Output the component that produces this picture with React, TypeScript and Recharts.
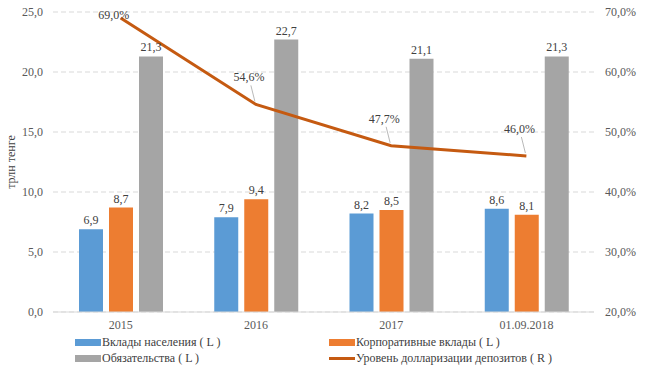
import { ComposedChart, Bar, Line, XAxis, YAxis, CartesianGrid, LabelList } from 'recharts'

const years = ['2015', '2016', '2017', '01.09.2018']
const household = [6.9, 7.9, 8.2, 8.6]
const corporate = [8.7, 9.4, 8.5, 8.1]
const liabilities = [21.3, 22.7, 21.1, 21.3]
const dollarization = [69.0, 54.6, 47.7, 46.0]
const leftTicks = [0, 5, 10, 15, 20, 25]
const rightTicks = [20, 30, 40, 50, 60, 70]

const FONT = '"Liberation Serif", "DejaVu Serif", "Times New Roman", serif'
const TEXT = '#595959'
const BLUE = '#5B9BD5'
const ORANGE = '#ED7D31'
const GREY = '#A5A5A5'
const LINE = '#C55A11'

const data = years.map((year, i) => ({
  year,
  household: household[i],
  corporate: corporate[i],
  liabilities: liabilities[i],
  dollarization: dollarization[i],
}))

const fmt = (v: number) => v.toFixed(1).replace('.', ',')

const LineLabel = (props: any) => {
  const { x, y, value } = props
  const lx = x - 7
  const ly = Math.max(y - 27, 15)
  const gap = y - ly
  return (
    <g>
      {gap > 15 && (
        <line x1={lx + 2} y1={ly + 8} x2={x - 1} y2={y - 3} stroke="#a6a6a6" strokeWidth={0.8} />
      )}
      <text x={lx} y={ly} textAnchor="middle" dominantBaseline="central" fontSize={12} fontFamily={FONT} fill="#404040">
        {fmt(value) + '%'}
      </text>
    </g>
  )
}

const legendItems = [
  { name: 'Вклады населения ( L )', color: BLUE, kind: 'bar', left: 75, top: 336 },
  { name: 'Корпоративные вклады ( L )', color: ORANGE, kind: 'bar', left: 329, top: 336 },
  { name: 'Обязательства ( L )', color: GREY, kind: 'bar', left: 75, top: 352 },
  { name: 'Уровень долларизации депозитов ( R )', color: LINE, kind: 'line', left: 329, top: 352 },
]

const tickStyle = { fontSize: 12, fill: TEXT, fontFamily: FONT }
const barLabelStyle = { fontSize: 12, fill: '#404040', fontFamily: FONT }

export default function App() {
  return (
    <div style={{ position: 'absolute', left: 0, top: 0, width: 650, height: 369, background: '#fff', fontFamily: FONT }}>
      <ComposedChart
        width={650}
        height={369}
        data={data}
        margin={{ top: 12, right: 0, bottom: 37, left: 0 }}
        barSize={24}
        barGap={6}
        style={{ fontFamily: FONT }}
      >
        <CartesianGrid vertical={false} stroke="#d9d9d9" strokeDasharray="5 3" yAxisId="left" />
        <XAxis dataKey="year" height={20} tickLine={false} axisLine={{ stroke: '#d9d9d9' }} tick={tickStyle} />
        <YAxis
          yAxisId="left"
          width={53}
          domain={[0, 25]}
          ticks={leftTicks}
          tickFormatter={fmt}
          axisLine={false}
          tickLine={false}
          tickMargin={4}
          tick={tickStyle}
          label={{
            value: 'трлн тенге',
            angle: -90,
            position: 'insideLeft',
            dx: 6,
            style: { fontSize: 12, fill: '#404040', fontFamily: FONT, textAnchor: 'middle' },
          }}
        />
        <YAxis
          yAxisId="right"
          orientation="right"
          width={56}
          domain={[20, 70]}
          ticks={rightTicks}
          tickFormatter={(v: number) => fmt(v) + '%'}
          axisLine={false}
          tickLine={false}
          tickMargin={5}
          tick={tickStyle}
        />
        <Bar yAxisId="left" dataKey="household" fill={BLUE} isAnimationActive={false}>
          <LabelList dataKey="household" position="top" formatter={fmt} style={barLabelStyle} />
        </Bar>
        <Bar yAxisId="left" dataKey="corporate" fill={ORANGE} isAnimationActive={false}>
          <LabelList dataKey="corporate" position="top" formatter={fmt} style={barLabelStyle} />
        </Bar>
        <Bar yAxisId="left" dataKey="liabilities" fill={GREY} isAnimationActive={false}>
          <LabelList dataKey="liabilities" position="top" formatter={fmt} style={barLabelStyle} />
        </Bar>
        <Line yAxisId="right" dataKey="dollarization" stroke={LINE} strokeWidth={3} dot={false} isAnimationActive={false}>
          <LabelList dataKey="dollarization" content={LineLabel} />
        </Line>
      </ComposedChart>
      {legendItems.map((item) => (
        <div
          key={item.name}
          style={{ position: 'absolute', left: item.left, top: item.top, display: 'flex', alignItems: 'center', fontSize: 12, color: '#404040', lineHeight: '12px', fontFamily: FONT }}
        >
          <span style={{ display: 'inline-block', width: 26, height: item.kind === 'bar' ? 7 : 3, background: item.color, marginRight: 1 }} />
          <span>{item.name}</span>
        </div>
      ))}
    </div>
  )
}
